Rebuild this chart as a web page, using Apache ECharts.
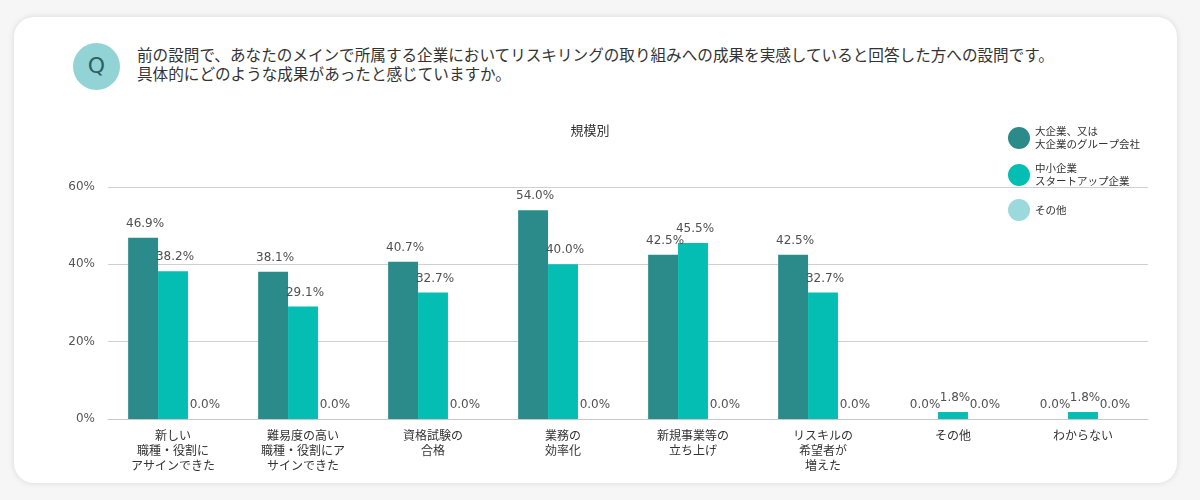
<!DOCTYPE html>
<html><head><meta charset="utf-8">
<script src="https://cdn.jsdelivr.net/npm/echarts@6/dist/echarts.min.js"></script>
<style>
html,body{margin:0;padding:0;width:1200px;height:500px;background:#f6f6f6;overflow:hidden;font-family:"Noto Sans CJK JP",sans-serif;}
#card{position:absolute;left:14px;top:17px;width:1163px;height:466px;background:#fff;border-radius:20px;box-shadow:0 0 6px rgba(0,0,0,0.12);}
#q{position:absolute;left:73px;top:43px;width:47px;height:47px;border-radius:50%;background:#92d4d6;color:#2f5f66;font-family:"DejaVu Sans",sans-serif;font-size:22px;line-height:46px;text-align:center;}
#qt{position:absolute;left:137px;top:45px;font-size:15.6px;line-height:19px;color:#333;white-space:nowrap;}
#chart{position:absolute;left:0;top:0;width:1200px;height:500px;}
</style></head>
<body>
<div id="card"></div>
<div id="q">Q</div>
<div id="qt">前の設問で、あなたのメインで所属する企業においてリスキリングの取り組みへの成果を実感していると回答した方への設問です。<br>具体的にどのような成果があったと感じていますか。</div>
<div id="chart"></div>
<script>
const categories = ["新しい\n職種・役割に\nアサインできた","難易度の高い\n職種・役割にア\nサインできた","資格試験の\n合格","業務の\n効率化","新規事業等の\n立ち上げ","リスキルの\n希望者が\n増えた","その他","わからない"];
const seriesNames = ["大企業、又は\n大企業のグループ会社","中小企業\nスタートアップ企業","その他"];
const largeCorp = [46.9,38.1,40.7,54.0,42.5,42.5,0.0,0.0];
const smallCorp = [38.2,29.1,32.7,40.0,45.5,32.7,1.8,1.8];
const otherCorp = [0.0,0.0,0.0,0.0,0.0,0.0,0.0,0.0];
const yTicks = [0,20,40,60];
const colors = ["#2b8a8a","#04bdb3","#9cd9dc"];

const chart = echarts.init(document.getElementById('chart'));
const lbl = {show:true,position:'top',distance:8,offset:[2,0],formatter:p=>p.value.toFixed(1)+'%',fontFamily:'DejaVu Sans',fontSize:12,color:'#505050'};
chart.setOption({
  animation:false,
  title:{text:'規模別',left:585,top:119,textAlign:'center',textStyle:{fontSize:13,fontWeight:'normal',color:'#333',fontFamily:'Noto Sans CJK JP'}},
  legend:{orient:'vertical',left:1003,top:120,icon:'circle',itemWidth:22,itemHeight:22,itemGap:11,
    textStyle:{fontSize:10.5,color:'#333',lineHeight:13,fontFamily:'Noto Sans CJK JP'},data:seriesNames},
  grid:{left:108,right:52,top:187,bottom:81},
  xAxis:{type:'category',data:categories,axisTick:{show:false},
    axisLine:{lineStyle:{color:'#c8c8c8'}},
    axisLabel:{interval:0,margin:9,fontSize:12,lineHeight:15,color:'#333',fontFamily:'Noto Sans CJK JP'}},
  yAxis:{type:'value',min:yTicks[0],max:yTicks[yTicks.length-1],interval:20,
    axisLabel:{formatter:'{value}%',fontFamily:'DejaVu Sans',fontSize:12,color:'#555',margin:13},
    splitLine:{lineStyle:{color:'#d0d0d0'}},axisLine:{show:false},axisTick:{show:false}},
  series:[
    {name:seriesNames[0],type:'bar',data:largeCorp,itemStyle:{color:colors[0]},barGap:'0%',barCategoryGap:'31%',label:lbl},
    {name:seriesNames[1],type:'bar',data:smallCorp,itemStyle:{color:colors[1]},label:lbl},
    {name:seriesNames[2],type:'bar',data:otherCorp,itemStyle:{color:colors[2]},label:lbl}
  ]
});
</script>
</body></html>
